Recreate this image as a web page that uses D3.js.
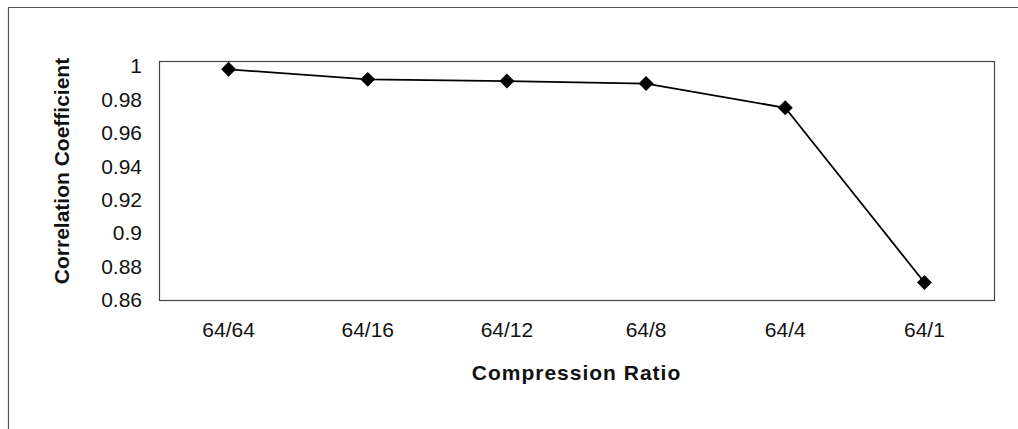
<!DOCTYPE html>
<html>
<head>
<meta charset="utf-8">
<script src="https://cdn.jsdelivr.net/npm/d3@7"></script>
<style>
  html, body { margin: 0; padding: 0; background: #fff; }
  svg { display: block; }
</style>
</head>
<body>
<svg id="chart" width="1018" height="429"></svg>
<script>
// Correlation coefficient against compression ratio
const categories = ["64/64", "64/16", "64/12", "64/8", "64/4", "64/1"];
const correlation = [0.998, 0.992, 0.991, 0.9895, 0.975, 0.8705];
const yTicks = [0.86, 0.88, 0.9, 0.92, 0.94, 0.96, 0.98, 1];
const yTickLabels = ["0.86", "0.88", "0.9", "0.92", "0.94", "0.96", "0.98", "1"];

const svg = d3.select("#chart");
const W = 1018, H = 429;
const plot = { left: 159, right: 994, top: 61, bottom: 300 };
const font = "'Liberation Sans', Arial, sans-serif";

// chart frame (left and top edges)
svg.append("path")
  .attr("d", `M8.5,${H} L8.5,7.5 L${W},7.5`)
  .attr("fill", "none")
  .attr("stroke", "#555")
  .attr("stroke-width", 1.2);

const x = d3.scaleBand()
  .domain(categories)
  .range([plot.left, plot.right]);

const y = d3.scaleLinear()
  .domain([0.86, 1])
  .range([plot.bottom, 66]);

// plot area border
svg.append("rect")
  .attr("x", plot.left + 0.5)
  .attr("y", plot.top + 0.5)
  .attr("width", plot.right - plot.left)
  .attr("height", plot.bottom - plot.top)
  .attr("fill", "none")
  .attr("stroke", "#444")
  .attr("stroke-width", 1.2);

// y axis labels
const yAxis = d3.axisLeft(y)
  .tickValues(yTicks)
  .tickFormat((d, i) => yTickLabels[i])
  .tickSize(0)
  .tickPadding(0);
const gy = svg.append("g")
  .attr("transform", `translate(142,0)`)
  .call(yAxis);
gy.select(".domain").remove();
gy.selectAll("text")
  .attr("font-family", font)
  .attr("font-size", 21)
  .attr("fill", "#111");

// x axis labels
const xAxis = d3.axisBottom(x).tickSize(0).tickPadding(0);
const gx = svg.append("g")
  .attr("transform", `translate(0,${plot.bottom + 22})`)
  .call(xAxis);
gx.select(".domain").remove();
gx.selectAll("text")
  .attr("font-family", font)
  .attr("font-size", 21)
  .attr("fill", "#111");

// axis titles
svg.append("text")
  .attr("x", (plot.left + plot.right) / 2)
  .attr("y", 380)
  .attr("text-anchor", "middle")
  .attr("font-family", font)
  .attr("font-weight", "bold")
  .attr("font-size", 21)
  .attr("letter-spacing", 1)
  .attr("fill", "#111")
  .text("Compression Ratio");

svg.append("text")
  .attr("transform", `translate(69,171) rotate(-90)`)
  .attr("text-anchor", "middle")
  .attr("font-family", font)
  .attr("font-weight", "bold")
  .attr("font-size", 21)
  .attr("fill", "#111")
  .text("Correlation Coefficient");

// data line
const pts = categories.map((c, i) => ({ c, v: correlation[i] }));
const line = d3.line()
  .x(d => x(d.c) + x.bandwidth() / 2)
  .y(d => y(d.v));
svg.append("path")
  .datum(pts)
  .attr("d", line)
  .attr("fill", "none")
  .attr("stroke", "#000")
  .attr("stroke-width", 1.8);

// diamond markers
const diamond = d3.symbol().type(d3.symbolSquare).size(112);
svg.append("g")
  .selectAll("path")
  .data(pts)
  .join("path")
  .attr("d", diamond)
  .attr("transform", d => `translate(${x(d.c) + x.bandwidth() / 2},${y(d.v)}) rotate(45)`)
  .attr("fill", "#000");
</script>
</body>
</html>
